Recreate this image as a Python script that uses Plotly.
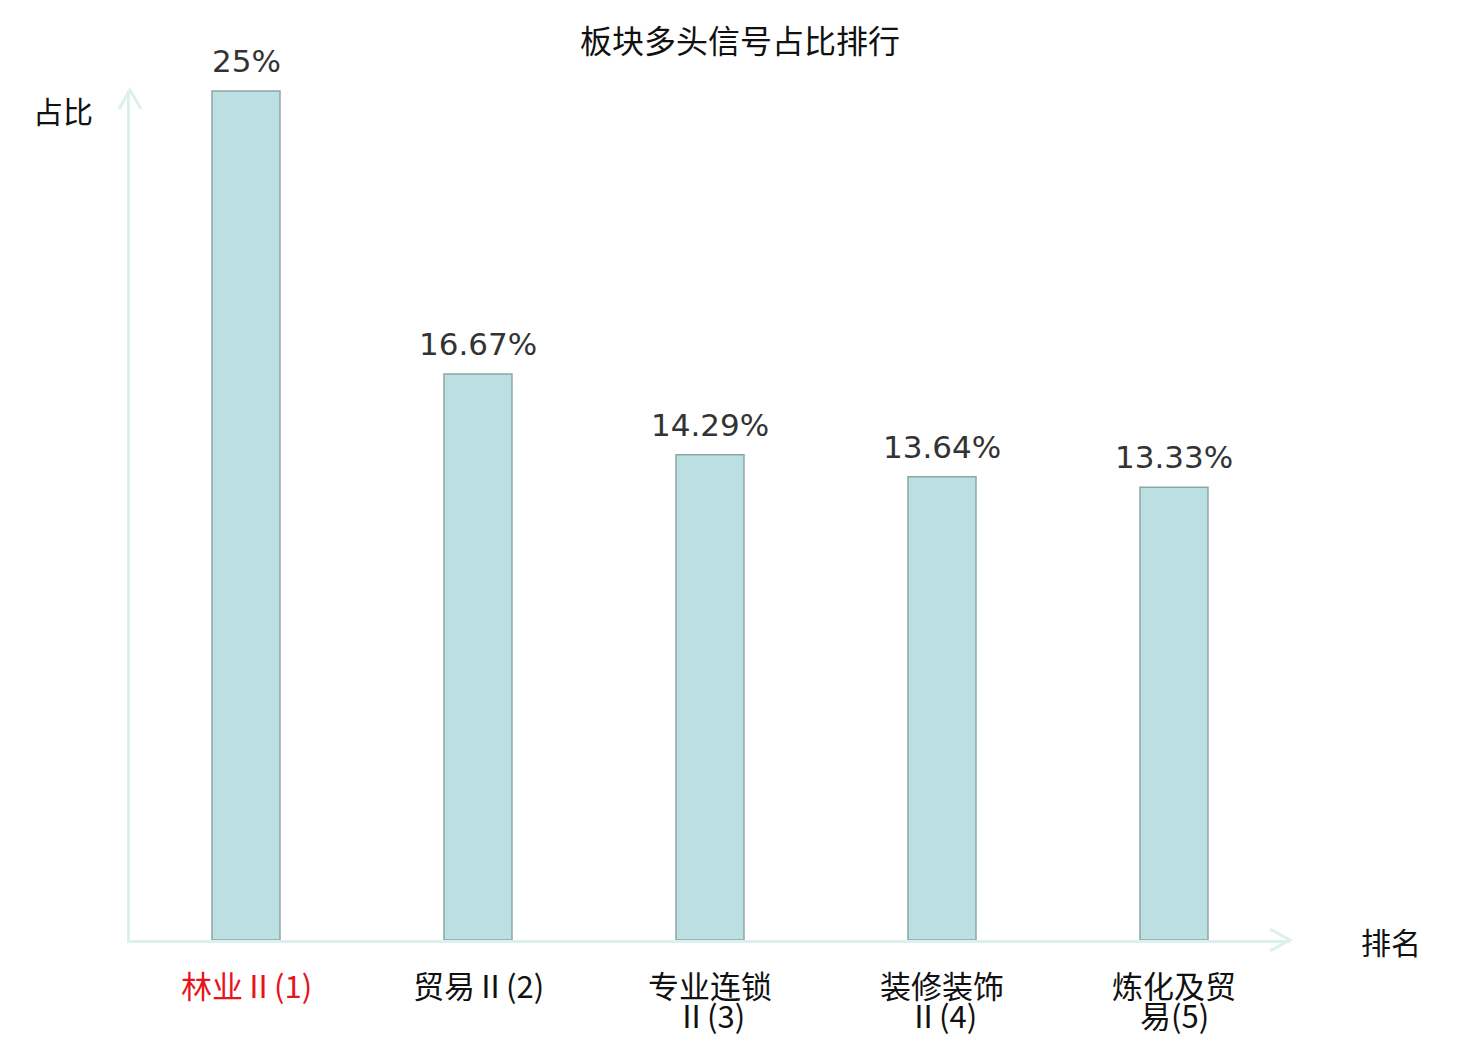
import plotly.graph_objects as go

categories = ["林业Ⅱ(1)", "贸易Ⅱ(2)", "专业连锁Ⅱ(3)", "装修装饰Ⅱ(4)", "炼化及贸易(5)"]
label_line1 = ["林业Ⅱ(1)", "贸易Ⅱ(2)", "专业连锁", "装修装饰", "炼化及贸"]
label_line2 = ["", "", "Ⅱ(3)", "Ⅱ(4)", "易(5)"]
label_colors = ["#e8141c", "#111111", "#111111", "#111111", "#111111"]
values = [25, 16.67, 14.29, 13.64, 13.33]
value_text = ["25%", "16.67%", "14.29%", "13.64%", "13.33%"]

AXIS_COLOR = "#dcf1ee"
CJK = "Noto Sans CJK SC"

# page offset of the plot div (browser body margin)
OFF = 8
W, H = 1480 - OFF, 1040 - OFF
L, T = 130 - OFF, 90 - OFF
pw, ph = 1160, 850
R, B = W - L - pw, H - T - ph

fig = go.Figure()
fig.add_trace(go.Bar(
    x=categories, y=values,
    marker=dict(color="#bce0e2", line=dict(color="#8aa7a8", width=1.5)),
    width=0.293, showlegend=False, hoverinfo="x+y",
))

for c, v, t in zip(categories, values, value_text):
    fig.add_annotation(x=c, y=v, xref="x", yref="y", text=t, showarrow=False,
                       xanchor="center", yanchor="middle", yshift=30,
                       font=dict(family="DejaVu Sans", size=31, color="#333333"))

fig.update_layout(
    width=W, height=H,
    margin=dict(l=L, r=R, t=T, b=B),
    plot_bgcolor="white", paper_bgcolor="white",
    title=dict(text="板块多头信号占比排行", x=(740 - OFF) / W, xanchor="center",
               y=1 - (42 - OFF) / H, yanchor="middle",
               font=dict(family=CJK, size=32, color="#111111")),
    xaxis=dict(showline=True, linecolor=AXIS_COLOR, linewidth=3, showgrid=False, zeroline=False,
               showticklabels=False, ticks="", range=[-0.5, 4.5]),
    yaxis=dict(showline=True, linecolor=AXIS_COLOR, linewidth=3, showgrid=False, zeroline=False,
               showticklabels=False, ticks="", range=[0, 25.03]),
    font=dict(family=CJK),
)

# axis arrow heads
ax_dx, ax_dy = 11 / pw, 19 / ph
fig.add_shape(type="path", xref="paper", yref="paper",
              path=f"M {-ax_dx} {1 - ax_dy} L 0 1 L {ax_dx} {1 - ax_dy}",
              line=dict(color=AXIS_COLOR, width=3))
bx_dx, bx_dy = 20 / pw, 11 / ph
fig.add_shape(type="path", xref="paper", yref="paper",
              path=f"M {1 - bx_dx} {bx_dy} L 1 0 L {1 - bx_dx} {-bx_dy}",
              line=dict(color=AXIS_COLOR, width=3))

# category labels
for c, l1, l2, col in zip(categories, label_line1, label_line2, label_colors):
    fig.add_annotation(x=c, xref="x", y=-(984 - 940) / ph, yref="paper", text=l1, showarrow=False,
                       xanchor="center", yanchor="middle", font=dict(family=CJK, size=31, color=col))
    if l2:
        fig.add_annotation(x=c, xref="x", y=-(1015 - 940) / ph, yref="paper", text=l2, showarrow=False,
                           xanchor="center", yanchor="middle", font=dict(family=CJK, size=31, color=col))

# axis names
fig.add_annotation(x=-(130 - 63) / pw, xref="paper", y=1 - (110 - 90) / ph, yref="paper", text="占比",
                   showarrow=False, xanchor="center", yanchor="middle",
                   font=dict(family=CJK, size=30, color="#111111"))
fig.add_annotation(x=1 + (1391 - 1290) / pw, xref="paper", y=-(941 - 940) / ph, yref="paper", text="排名",
                   showarrow=False, xanchor="center", yanchor="middle",
                   font=dict(family=CJK, size=30, color="#111111"))

fig.write_html("out.html")
